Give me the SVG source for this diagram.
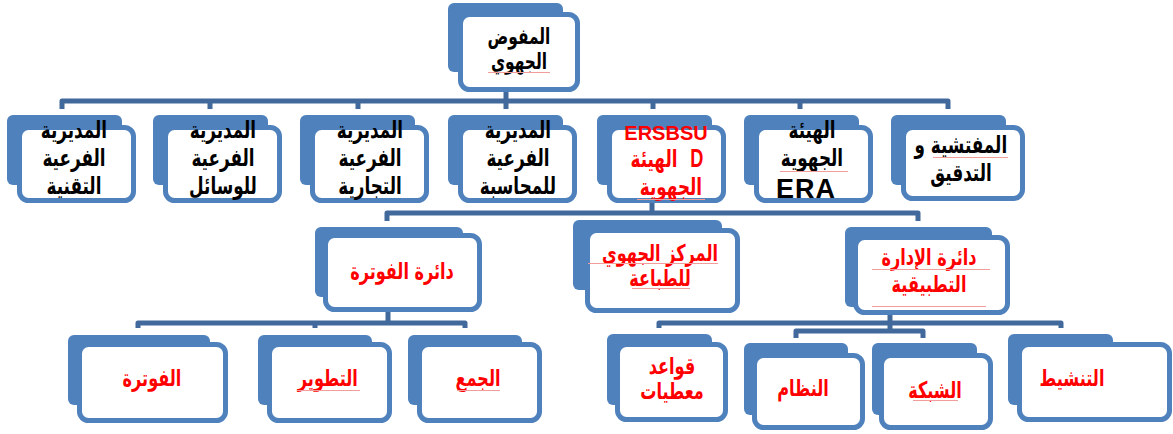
<svg xmlns="http://www.w3.org/2000/svg" width="1173" height="434" viewBox="0 0 1173 434">
  <defs>
    <style>
      .back { fill: #4F81BD; }
      .front { fill: #FFFFFF; stroke: #4F81BD; stroke-width: 5; }
      .wire { fill: none; stroke: #41699B; stroke-width: 5; stroke-linejoin: round; }
      .ar { font-family: "DejaVu Sans", "Liberation Sans", sans-serif; font-weight: bold; font-size: 24px; text-anchor: middle; direction: rtl;
            transform: scaleX(0.7); transform-box: fill-box; transform-origin: center; }
      .ar.s3 { font-size: 23px; }
      .ar.s1 { font-size: 22px; }
      .la { font-family: "Liberation Sans", "DejaVu Sans", sans-serif; font-weight: bold; font-size: 20px; text-anchor: middle; }
      .la.big { font-size: 27px; letter-spacing: 1px; }
      .latin-d { font-family: "Liberation Sans", sans-serif; font-size: 26px; }
      .blk { fill: #000000; }
      .red { fill: #FF0000; }
      .mark { stroke: #F29C9C; stroke-width: 1; fill: none; }
    </style>
  </defs>
  <rect width="1173" height="434" fill="#FFFFFF"/>

  <!-- connectors -->
  <g id="connectors">
    <path class="wire" d="M506 92 V101"/>
    <path class="wire" d="M62 109 V101 H948 V109"/>
    <path class="wire" d="M210 101 V109 M358 101 V109 M506 101 V109 M653 101 V109 M800 101 V109"/>
    <path class="wire" d="M652 200 V213"/>
    <path class="wire" d="M387 221 V213 H918 V221"/>
    <path class="wire" d="M388 310 V323"/>
    <path class="wire" d="M138 328 V323 H465 V328 M315 323 V328"/>
    <path class="wire" d="M890 313 V331"/>
    <path class="wire" d="M659 328 V323 H1061 V328"/>
    <path class="wire" d="M796 338 V331 H923 V338"/>
  </g>

  <!-- top -->
  <g id="n-delegate">
    <rect class="back" x="448" y="3" width="115" height="69" rx="6"/>
    <rect class="front" x="460.5" y="14.5" width="117" height="75" rx="9"/>
    <text class="ar s1 blk" x="519" y="44">المفوض</text>
    <text class="ar s1 blk" x="519" y="69">الجهوي</text>
  </g>

  <!-- second row -->
  <g id="n-tech">
    <rect class="back" x="7" y="115" width="115" height="70" rx="6"/>
    <rect class="front" x="19.5" y="127.5" width="114" height="73" rx="9"/>
    <text class="ar blk" x="74" y="138">المديرية</text>
    <text class="ar blk" x="74" y="166">الفرعية</text>
    <text class="ar blk" x="74" y="194">التقنية</text>
  </g>
  <g id="n-means">
    <rect class="back" x="153" y="115" width="115" height="70" rx="6"/>
    <rect class="front" x="165.5" y="127.5" width="114" height="73" rx="9"/>
    <text class="ar blk" x="223" y="138">المديرية</text>
    <text class="ar blk" x="223" y="166">الفرعية</text>
    <text class="ar blk" x="223" y="194">للوسائل</text>
  </g>
  <g id="n-commerce">
    <rect class="back" x="300" y="115" width="115" height="70" rx="6"/>
    <rect class="front" x="312.5" y="127.5" width="114" height="73" rx="9"/>
    <text class="ar blk" x="370" y="138">المديرية</text>
    <text class="ar blk" x="370" y="166">الفرعية</text>
    <text class="ar blk" x="370" y="194">التجارية</text>
  </g>
  <g id="n-accounting">
    <rect class="back" x="448" y="115" width="115" height="70" rx="6"/>
    <rect class="front" x="460.5" y="127.5" width="114" height="73" rx="9"/>
    <text class="ar blk" x="518" y="138">المديرية</text>
    <text class="ar blk" x="518" y="166">الفرعية</text>
    <text class="ar blk" x="518" y="194">للمحاسبة</text>
  </g>
  <g id="n-ersbsud">
    <rect class="back" x="597" y="115" width="115" height="70" rx="6"/>
    <rect class="front" x="609.5" y="127.5" width="114" height="73" rx="9"/>
    <text class="la red" x="666" y="140">ERSBSU</text>
    <text class="ar red" x="667" y="167" style="direction:ltr">الهيئة <tspan class="latin-d" dx="10">D</tspan></text>
    <text class="ar red" x="671" y="195">الجهوية</text>
  </g>
  <g id="n-era">
    <rect class="back" x="744" y="115" width="115" height="70" rx="6"/>
    <rect class="front" x="756.5" y="127.5" width="114" height="73" rx="9"/>
    <text class="ar blk" x="812" y="138">الهيئة</text>
    <text class="ar blk" x="812" y="166">الجهوية</text>
    <text class="la big blk" x="806" y="198">ERA</text>
  </g>
  <g id="n-inspection">
    <rect class="back" x="891" y="115" width="115" height="70" rx="6"/>
    <rect class="front" x="903.5" y="127.5" width="119" height="71" rx="9"/>
    <text class="ar blk" x="961" y="153">المفتشية و</text>
    <text class="ar blk" x="961" y="181">التدقيق</text>
  </g>

  <!-- third row -->
  <g id="n-billing-dept">
    <rect class="back" x="315" y="227" width="148" height="70" rx="6"/>
    <rect class="front" x="325.5" y="235.5" width="154" height="74" rx="9"/>
    <text class="ar s3 red" x="402" y="279">دائرة الفوترة</text>
  </g>
  <g id="n-print">
    <rect class="back" x="573" y="220" width="149" height="70" rx="6"/>
    <rect class="front" x="587.5" y="230.5" width="150" height="80" rx="9"/>
    <text class="ar s3 red" x="660" y="261">المركز الجهوي</text>
    <text class="ar s3 red" x="660" y="286">للطباعة</text>
  </g>
  <g id="n-apps-dept">
    <rect class="back" x="845" y="227" width="147" height="80" rx="6"/>
    <rect class="front" x="855.5" y="237.5" width="152" height="75" rx="9"/>
    <text class="ar s3 red" x="929" y="265">دائرة الإدارة</text>
    <text class="ar s3 red" x="929" y="292">التطبيقية</text>
  </g>

  <!-- fourth row -->
  <g id="n-billing">
    <rect class="back" x="68" y="335" width="142" height="70" rx="6"/>
    <rect class="front" x="79.5" y="344.5" width="146" height="76" rx="9"/>
    <text class="ar s3 red" x="152" y="386">الفوترة</text>
  </g>
  <g id="n-dev">
    <rect class="back" x="258" y="335" width="114" height="70" rx="6"/>
    <rect class="front" x="269.5" y="344.5" width="120" height="76" rx="9"/>
    <text class="ar s3 red" x="328" y="386">التطوير</text>
  </g>
  <g id="n-collect">
    <rect class="back" x="408" y="335" width="114" height="70" rx="6"/>
    <rect class="front" x="419.5" y="344.5" width="120" height="76" rx="9"/>
    <text class="ar s3 red" x="478" y="386">الجمع</text>
  </g>
  <g id="n-db">
    <rect class="back" x="607" y="334" width="105" height="71" rx="6"/>
    <rect class="front" x="617.5" y="344.5" width="108" height="75" rx="9"/>
    <text class="ar s3 red" x="672" y="374">قواعد</text>
    <text class="ar s3 red" x="672" y="399">معطيات</text>
  </g>
  <g id="n-system">
    <rect class="back" x="744" y="343" width="104" height="72" rx="6"/>
    <rect class="front" x="754.5" y="355.5" width="108" height="72" rx="9"/>
    <text class="ar s3 red" x="803" y="396">النظام</text>
  </g>
  <g id="n-network">
    <rect class="back" x="872" y="343" width="105" height="72" rx="6"/>
    <rect class="front" x="881.5" y="355.5" width="109" height="72" rx="9"/>
    <text class="ar s3 red" x="935" y="398">الشبكة</text>
  </g>
  <g id="n-animation">
    <rect class="back" x="1008" y="334" width="105" height="71" rx="6"/>
    <rect class="front" x="1019.5" y="344.5" width="150" height="75" rx="9"/>
    <text class="ar s3 red" x="1072" y="386">التنشيط</text>
  </g>

  <!-- proofing underlines beneath flagged words -->
  <g id="proofing">
    <path class="mark" d="M488 72.5 H550"/>
    <path class="mark" d="M637 199.5 H705"/>
    <path class="mark" d="M780 171.5 H848"/>
    <path class="mark" d="M933 157.5 H1008"/>
    <path class="mark" d="M588 263.5 H718"/>
    <path class="mark" d="M632 288.5 H690"/>
    <path class="mark" d="M872 269.5 H990"/>
    <path class="mark" d="M872 306.5 H986"/>
    <path class="mark" d="M297 390.5 H360"/>
    <path class="mark" d="M457 390.5 H500"/>
    <path class="mark" d="M913 400.5 H958"/>
  </g>
</svg>
